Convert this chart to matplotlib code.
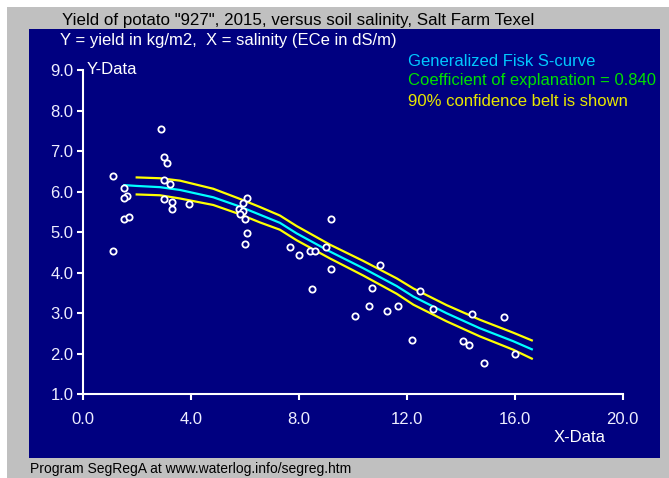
import numpy as np
import matplotlib
matplotlib.use('Agg')
from matplotlib import pyplot as plt
from matplotlib.patches import Rectangle

# data
x_obs = [2.87, 3.00, 3.11, 1.11, 2.99, 3.21, 1.52, 1.61, 1.52, 2.99, 3.29, 3.29,
         3.92, 1.52, 1.68, 1.11, 6.08, 5.92, 5.78, 5.91, 5.81, 6.00, 6.08, 6.00,
         9.20, 7.68, 8.00, 8.41, 8.58, 9.00, 9.20, 8.48, 11.00, 10.72, 10.60,
         10.07, 11.27, 11.68, 12.48, 12.20, 12.98, 14.40, 15.60, 14.08, 14.31,
         16.00, 14.87]
y_obs = [7.55, 6.86, 6.70, 6.38, 6.29, 6.20, 6.08, 5.90, 5.84, 5.82, 5.74, 5.58,
         5.69, 5.32, 5.37, 4.54, 5.85, 5.71, 5.56, 5.53, 5.45, 5.32, 4.97, 4.72,
         5.32, 4.63, 4.44, 4.53, 4.54, 4.63, 4.09, 3.59, 4.20, 3.61, 3.19,
         2.93, 3.05, 3.19, 3.55, 2.33, 3.10, 2.98, 2.91, 2.31, 2.22,
         1.99, 1.77]

x_fit = [1.52, 1.98, 2.84, 3.59, 4.82, 5.81, 6.55, 7.29, 7.91, 9.15, 10.38,
         11.62, 12.24, 13.47, 14.70, 15.94, 16.63]
y_fit = [6.16, 6.14, 6.11, 6.04, 5.86, 5.63, 5.43, 5.23, 4.97, 4.52, 4.11,
         3.67, 3.41, 3.00, 2.63, 2.31, 2.11]

x_belt = x_fit[1:]
y_upper = [6.35, 6.33, 6.27, 6.07, 5.82, 5.62, 5.41, 5.15, 4.69, 4.29, 3.86,
           3.61, 3.20, 2.84, 2.52, 2.33]
y_lower = [5.93, 5.91, 5.83, 5.67, 5.44, 5.24, 5.06, 4.80, 4.35, 3.93, 3.48,
           3.21, 2.80, 2.43, 2.10, 1.88]

x_ticks = [0, 4, 8, 12, 16, 20]
y_ticks = [1, 2, 3, 4, 5, 6, 7, 8, 9]

W, H = 669, 478
navy = '#000080'
plt.rcParams['font.family'] = ['Liberation Sans', 'DejaVu Sans']

fig = plt.figure(figsize=(W / 100, H / 100), dpi=100)
fig.patch.set_facecolor('white')


def fx(px):
    return px / W


def fy(py):
    return 1 - py / H


# grey frame and blue panel
fig.patches.append(Rectangle((fx(7), 0), 1 - fx(7), fy(7), transform=fig.transFigure,
                             facecolor='#c0c0c0', edgecolor='none', zorder=-2))
fig.patches.append(Rectangle((fx(29), fy(458)), fx(660) - fx(29), fy(29) - fy(458),
                             transform=fig.transFigure, facecolor=navy,
                             edgecolor='none', zorder=-1))

ax = fig.add_axes([fx(83.3), fy(394.3), fx(622.7) - fx(83.3), fy(70) - fy(394.3)])
ax.set_zorder(2)
ax.set_facecolor('none')
ax.set_xlim(0, 20)
ax.set_ylim(1, 9)
for s in ['top', 'right']:
    ax.spines[s].set_visible(False)
for s in ['left', 'bottom']:
    ax.spines[s].set_color('white')
    ax.spines[s].set_linewidth(1.5)
ax.set_xticks(x_ticks)
ax.set_xticklabels(['%.1f' % v for v in x_ticks])
ax.set_yticks(y_ticks)
ax.set_yticklabels(['%.1f' % v for v in y_ticks])
ax.tick_params(axis='both', colors='white', labelcolor='#eeeeff', length=4,
               width=1.5, labelsize=12)
ax.tick_params(axis='x', pad=9)
ax.tick_params(axis='y', pad=3)

ax.plot(x_belt, y_upper, color='#ffff00', lw=1.6, clip_on=False)
ax.plot(x_belt, y_lower, color='#ffff00', lw=1.6, clip_on=False)
ax.plot(x_fit, y_fit, color='#00ffff', lw=1.6, clip_on=False)
ax.plot(x_obs, y_obs, 'o', ms=4.5, mfc=navy, mec='white', mew=1.3, clip_on=False)

fig.text(fx(62), fy(20.7), 'Yield of potato "927", 2015, versus soil salinity, Salt Farm Texel',
         fontsize=12.2, color='black', va='center', ha='left')
fig.text(fx(60), fy(41), 'Y = yield in kg/m2,  X = salinity (ECe in dS/m)',
         fontsize=12, color='white', va='center', ha='left')
fig.text(fx(30), fy(469), 'Program SegRegA at www.waterlog.info/segreg.htm',
         fontsize=10, color='black', va='center', ha='left')
fig.text(fx(87), fy(70), 'Y-Data', fontsize=12, color='white', va='center', ha='left')
fig.text(fx(580), fy(437), 'X-Data', fontsize=12, color='white', va='center', ha='center')
fig.text(fx(408), fy(61), 'Generalized Fisk S-curve', fontsize=12, color='#00c8ff',
         va='center', ha='left')
fig.text(fx(408), fy(81), 'Coefficient of explanation = 0.840', fontsize=12,
         color='#00e000', va='center', ha='left')
fig.text(fx(408), fy(102), '90% confidence belt is shown', fontsize=12,
         color='#e8e800', va='center', ha='left')

fig.savefig('out.png', dpi=100, facecolor=fig.get_facecolor())
